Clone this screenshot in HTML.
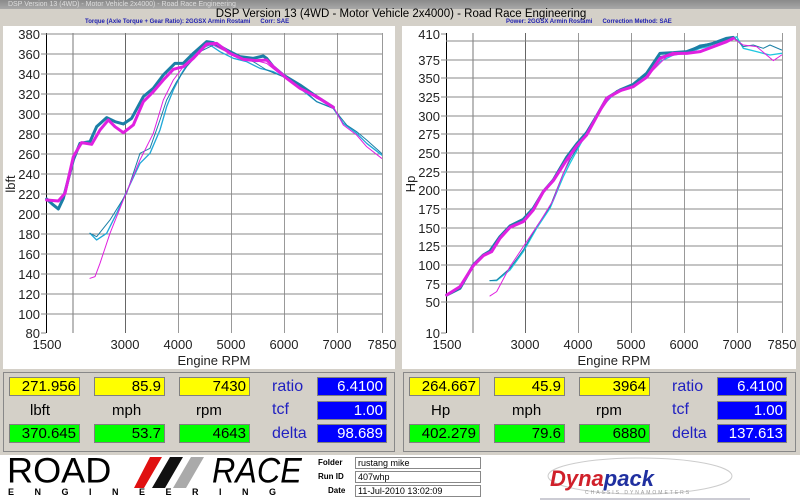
<!DOCTYPE html>
<html><head><meta charset="utf-8"><style>
*{margin:0;padding:0;box-sizing:border-box}
body{width:800px;height:500px;background:#d4d0c8;font-family:"Liberation Sans",sans-serif;position:relative;overflow:hidden}
.abs{position:absolute}
.box{position:absolute;height:19px;border:1px solid #808080;font-size:15px;text-align:right;padding-right:3px;line-height:18px;color:#000}
.y{background:#ffff00}.g{background:#00ff00}.b{background:#0000ff;color:#fff}
.lab{position:absolute;font-size:15px;color:#000}
.bl{position:absolute;font-size:16px;color:#2020c0}
.fl{position:absolute;font-size:8px;font-weight:bold;left:318px}
.ff{position:absolute;left:355px;width:126px;height:12px;border:1px solid #888;background:#fff;font-size:9px;line-height:10px;padding-left:2px}
</style></head><body>
<div class="abs" style="left:0;top:0;width:800px;height:9px;background:linear-gradient(#8a8a8a,#a8a8a8)"></div>
<div class="abs" style="left:8px;top:0;font-size:7px;color:#ddd;line-height:9px">DSP Version 13 (4WD) - Motor Vehicle 2x4000) - Road Race Engineering</div>
<div class="abs" style="left:0;top:8px;width:800px;text-align:center;font-size:11.5px;line-height:12px;padding-left:2px">DSP Version 13 (4WD - Motor Vehicle 2x4000) - Road Race Engineering</div>
<div class="abs" style="left:85px;top:19px;font-size:6px;font-weight:bold;color:#2020b0;line-height:7px">Torque (Axle Torque + Gear Ratio): 2GGSX Armin Rostami &nbsp;&nbsp;&nbsp;&nbsp; Corr: SAE</div>
<div class="abs" style="left:506px;top:19px;font-size:6px;font-weight:bold;color:#2020b0;line-height:7px">Power: 2GGSX Armin Rostami &nbsp;&nbsp;&nbsp;&nbsp; Correction Method: SAE</div>

<svg class="abs" style="left:0;top:0" width="800" height="372">
<rect x="3" y="26" width="392" height="343" fill="#fff"/>
<rect x="402" y="26" width="394" height="343" fill="#fff"/>
<g stroke="#999" stroke-width="1">
<line x1="73" y1="33" x2="73" y2="333" stroke="#777"/>
<line x1="125.5" y1="33" x2="125.5" y2="333" stroke="#666"/>
<line x1="178.5" y1="33" x2="178.5" y2="333"/>
<line x1="231.5" y1="33" x2="231.5" y2="333"/>
<line x1="284.5" y1="33" x2="284.5" y2="333"/>
<line x1="337.5" y1="33" x2="337.5" y2="333"/>
<line x1="382.5" y1="33" x2="382.5" y2="333"/>
<line x1="46.5" y1="33" x2="46.5" y2="333" stroke="#000"/>
<line x1="473" y1="33" x2="473" y2="333" stroke="#777"/>
<line x1="525.5" y1="33" x2="525.5" y2="333" stroke="#666"/>
<line x1="578.5" y1="33" x2="578.5" y2="333"/>
<line x1="631.5" y1="33" x2="631.5" y2="333"/>
<line x1="684.5" y1="33" x2="684.5" y2="333"/>
<line x1="737.5" y1="33" x2="737.5" y2="333"/>
<line x1="782.5" y1="33" x2="782.5" y2="333"/>
<line x1="446.5" y1="33" x2="446.5" y2="333" stroke="#000"/>
</g>
<g font-family="Liberation Sans" font-size="13" fill="#222" text-anchor="end">
<g stroke="#888">
<path d="M46 34H382M46 54H382M46 74H382M46 94H382M46 114H382M46 134H382M46 154H382M46 174H382M46 194H382M46 214H382M46 234H382M46 254H382M46 274H382M46 294H382M46 314H382"/>
<path d="M41 34H46M41 54H46M41 74H46M41 94H46M41 114H46M41 134H46M41 154H46M41 174H46M41 194H46M41 214H46M41 234H46M41 254H46M41 274H46M41 294H46M41 314H46M41 333H46"/>
<path d="M446 41H782M446 60H782M446 78H782M446 97H782M446 116H782M446 134H782M446 153H782M446 172H782M446 190H782M446 209H782M446 228H782M446 246H782M446 265H782M446 284H782M446 302H782"/>
<path d="M441 34H446M441 60H446M441 78H446M441 97H446M441 116H446M441 134H446M441 153H446M441 172H446M441 190H446M441 209H446M441 228H446M441 246H446M441 265H446M441 284H446M441 302H446M441 333H446"/>
</g>
<text x="40" y="39">380</text><text x="40" y="59">360</text><text x="40" y="79">340</text><text x="40" y="99">320</text><text x="40" y="119">300</text><text x="40" y="139">280</text><text x="40" y="159">260</text><text x="40" y="179">240</text><text x="40" y="199">220</text><text x="40" y="219">200</text><text x="40" y="239">180</text><text x="40" y="259">160</text><text x="40" y="279">140</text><text x="40" y="299">120</text><text x="40" y="319">100</text><text x="40" y="338">80</text>
<text x="440" y="39">410</text><text x="440" y="65">375</text><text x="440" y="83">350</text><text x="440" y="102">325</text><text x="440" y="121">300</text><text x="440" y="139">275</text><text x="440" y="158">250</text><text x="440" y="177">225</text><text x="440" y="195">200</text><text x="440" y="214">175</text><text x="440" y="233">150</text><text x="440" y="251">125</text><text x="440" y="270">100</text><text x="440" y="289">75</text><text x="440" y="307">50</text><text x="440" y="338">10</text>
</g>
<g font-family="Liberation Sans" font-size="13" fill="#222" text-anchor="middle">
<text x="47" y="349">1500</text><text x="125" y="349">3000</text><text x="178" y="349">4000</text><text x="231" y="349">5000</text><text x="284" y="349">6000</text><text x="337" y="349">7000</text><text x="382" y="349">7850</text>
<text x="214" y="365">Engine RPM</text>
<text x="447" y="349">1500</text><text x="525" y="349">3000</text><text x="578" y="349">4000</text><text x="631" y="349">5000</text><text x="684" y="349">6000</text><text x="737" y="349">7000</text><text x="782" y="349">7850</text>
<text x="614" y="365">Engine RPM</text>
<text transform="translate(15,184) rotate(-90)">lbft</text>
<text transform="translate(415,184) rotate(-90)">Hp</text>
</g>
<g transform="translate(0,20) scale(0.3333)" fill="none" stroke-linejoin="round" stroke-linecap="round">
<path stroke="#20a8d8" stroke-width="4" d="M270,640 290,660 320,640 350,580 380,515 420,430 450,400 480,330 500,260 520,210 545,160 570,120 600,85 630,75 660,95 700,115 740,125 780,145 820,155 850,170 900,205 950,245 1000,265 1030,310 1070,340 1100,370 1145,405"/>
<path stroke="#1b7fa6" stroke-width="3" d="M270,640 290,650 330,600 380,520 420,400 450,385 480,300 500,240 530,185 560,140 600,95 640,75 680,95 720,110 760,125 800,150 850,170 900,200 950,245 1000,265 1020,290 1040,315 1070,335 1100,360 1145,400"/>
<path stroke="#e020e0" stroke-width="3" d="M270,775 285,770 300,730 330,640 370,540 420,420 460,340 490,240 520,180 550,140 590,100 630,70 680,95 720,115 760,120 800,130 850,170 900,200 950,235 1000,260 1030,315 1070,345 1100,380 1145,415"/>
<path stroke="#1b7fa6" stroke-width="9" d="M140,537 160,555 175,567 190,535 220,420 240,370 270,365 290,320 320,293 345,305 370,312 395,295 430,230 460,205 490,165 525,130 550,130 580,100 620,65 640,68 680,90 720,110 760,115 790,108 800,115 820,140 850,165 900,195 950,230 1000,262"/>
<path stroke="#e020e0" stroke-width="9" d="M140,540 175,543 195,520 220,410 245,368 275,373 300,330 325,300 345,320 370,338 400,315 430,245 460,215 490,180 520,148 550,140 580,115 620,72 650,70 690,100 730,118 770,122 800,120 820,140 860,175 900,205 950,230 1000,262"/>
</g>
<g transform="translate(400,20) scale(0.3333)" fill="none" stroke-linejoin="round" stroke-linecap="round">
<path stroke="#20c8e0" stroke-width="4" d="M270,782 290,782 330,750 370,695 410,625 450,565 490,470 510,430 540,375 570,320 610,255 650,215 700,195 740,170 780,125 820,105 860,100 900,85 950,75 990,60 1010,50 1030,85 1070,95 1110,105 1145,100"/>
<path stroke="#1b7fa6" stroke-width="3" d="M270,782 290,780 330,745 370,690 410,620 450,560 490,460 510,420 540,370 570,320 610,250 650,212 700,195 740,165 780,110 820,100 860,95 900,75 950,68 1000,50 1030,80 1060,75 1090,85 1110,75 1145,90"/>
<path stroke="#e020e0" stroke-width="3" d="M270,828 290,815 330,740 370,680 420,605 460,540 490,460 520,390 550,350 590,290 630,232 700,195 750,160 800,110 850,100 900,80 950,70 1000,55 1030,75 1070,80 1120,122 1145,105"/>
<path stroke="#1b7fa6" stroke-width="9" d="M140,825 180,805 220,735 250,705 270,693 300,650 330,618 370,598 400,565 430,515 460,480 500,412 530,372 560,338 590,288 620,235 660,210 700,193 740,160 780,100 820,98 860,95 900,80 940,70 980,55 1000,52"/>
<path stroke="#e020e0" stroke-width="9" d="M140,825 180,800 220,737 250,707 275,695 300,655 330,622 370,605 400,570 430,515 460,482 500,420 530,378 560,345 590,290 620,235 660,212 700,200 740,172 780,115 820,100 860,100 900,95 940,80 980,65 1000,55"/>
</g>
</svg>

<div class="abs" style="left:3px;top:372px;width:392px;height:80px;border:1px solid #888;background:#d4d0c8"></div>
<div class="abs" style="left:403px;top:372px;width:393px;height:80px;border:1px solid #888;background:#d4d0c8"></div>

<div class="box y" style="left:9px;top:377px;width:71px">271.956</div>
<div class="box y" style="left:94px;top:377px;width:71px">85.9</div>
<div class="box y" style="left:179px;top:377px;width:71px">7430</div>
<div class="bl" style="left:272px;top:378px">ratio</div>
<div class="box b" style="left:317px;top:377px;width:70px">6.4100</div>
<div class="lab" style="left:30px;top:402px">lbft</div>
<div class="lab" style="left:112px;top:402px">mph</div>
<div class="lab" style="left:196px;top:402px">rpm</div>
<div class="bl" style="left:272px;top:401px">tcf</div>
<div class="box b" style="left:317px;top:401px;width:70px">1.00</div>
<div class="box g" style="left:9px;top:424px;width:71px">370.645</div>
<div class="box g" style="left:94px;top:424px;width:71px">53.7</div>
<div class="box g" style="left:179px;top:424px;width:71px">4643</div>
<div class="bl" style="left:272px;top:425px">delta</div>
<div class="box b" style="left:317px;top:424px;width:70px">98.689</div>

<div class="box y" style="left:409px;top:377px;width:71px">264.667</div>
<div class="box y" style="left:494px;top:377px;width:71px">45.9</div>
<div class="box y" style="left:579px;top:377px;width:71px">3964</div>
<div class="bl" style="left:672px;top:378px">ratio</div>
<div class="box b" style="left:717px;top:377px;width:70px">6.4100</div>
<div class="lab" style="left:431px;top:402px">Hp</div>
<div class="lab" style="left:512px;top:402px">mph</div>
<div class="lab" style="left:596px;top:402px">rpm</div>
<div class="bl" style="left:672px;top:401px">tcf</div>
<div class="box b" style="left:717px;top:401px;width:70px">1.00</div>
<div class="box g" style="left:409px;top:424px;width:71px">402.279</div>
<div class="box g" style="left:494px;top:424px;width:71px">79.6</div>
<div class="box g" style="left:579px;top:424px;width:71px">6880</div>
<div class="bl" style="left:672px;top:425px">delta</div>
<div class="box b" style="left:717px;top:424px;width:70px">137.613</div>

<div class="abs" style="left:0;top:455px;width:800px;height:45px;background:#fff"></div>
<div class="abs" style="left:7px;top:454px;font-size:38px;line-height:38px;transform:scale(0.95,0.92);transform-origin:left top">ROAD</div>
<svg class="abs" style="left:134px;top:457px" width="80" height="32"><polygon points="16,0 28,0 10,31 0,31" fill="#e01010"/><polygon points="36,0 49,0 31,31 18,31" fill="#111"/><polygon points="57,0 70,0 52,31 39,31" fill="#aaa"/></svg>
<div class="abs" style="left:212px;top:454px;font-size:38px;font-style:italic;line-height:38px;transform:scale(0.85,0.92);transform-origin:left top">RACE</div>
<div class="abs" style="left:8px;top:487px;font-size:9px;font-weight:bold;letter-spacing:20.5px;line-height:10px">ENGINEERING</div>
<div class="fl" style="top:458px">Folder</div>
<div class="fl" style="top:472px">Run ID</div>
<div class="fl" style="top:486px;left:328px">Date</div>
<div class="ff" style="top:457px">rustang mike</div>
<div class="ff" style="top:471px">407whp</div>
<div class="ff" style="top:485px">11-Jul-2010 13:02:09</div>
<svg class="abs" style="left:540px;top:456px" width="210" height="44">
<ellipse cx="100" cy="20" rx="92" ry="18" fill="none" stroke="#ccc"/>
<text x="10" y="30" font-family="Liberation Sans" font-size="22" font-weight="bold" font-style="italic" fill="#d0202a">Dyna<tspan fill="#2030a0">pack</tspan></text>
<text x="45" y="38" font-family="Liberation Sans" font-size="5" fill="#999" letter-spacing="2">CHASSIS DYNAMOMETERS</text>
<line x1="0" y1="43" x2="210" y2="43" stroke="#99a"/>
</svg>
</body></html>
